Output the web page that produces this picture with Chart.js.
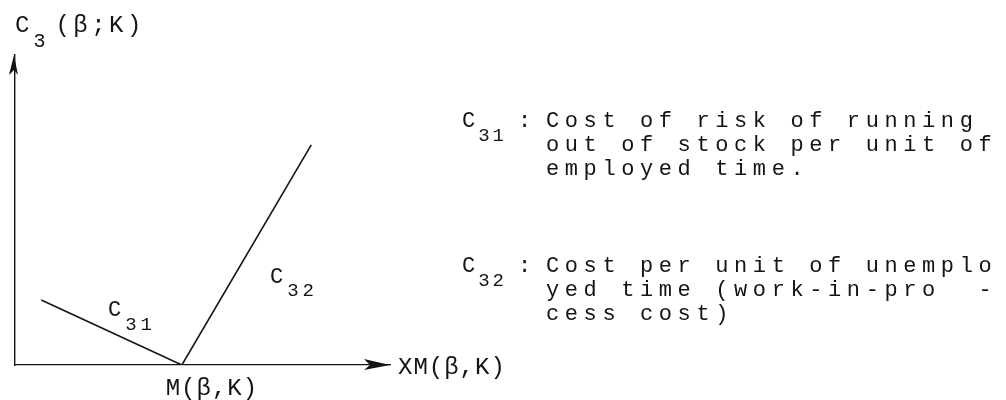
<!DOCTYPE html>
<html>
<head>
<meta charset="utf-8">
<title>C3(β;K)</title>
<script src="https://cdn.jsdelivr.net/npm/chart.js@4.4.1/dist/chart.umd.min.js"></script>
<style>
    html, body { margin: 0; padding: 0; background: #fff; }
    #wrap { width: 1006px; height: 400px; }
</style>
</head>
<body>
<div id="wrap"><canvas id="chart" width="1006" height="400"></canvas></div>
<script>
// Cost segments, in axis units (0..100 on both axes)
const c31X = [7, 44.5];
const c31Y = [21, 0];
const c32X = [44.5, 79];
const c32Y = [0, 71];

// Where the optimum M(β,K) sits on the x axis
const optimumX = 44.5;

// Segment labels, in axis units
const segLabels = [
    { base: 'C', sub: '31', x: 24.8, y: 15.8 },
    { base: 'C', sub: '32', x: 68, y: 26.5 }
];

// Explanatory notes on the right
const c31Note = ['Cost of risk of running', 'out of stock per unit of', 'employed time.'];
const c32Note = ['Cost per unit of unemplo', 'yed time (work-in-pro  -', 'cess cost)'];

const FONT = '"Liberation Mono", "DejaVu Sans Mono", monospace';
const INK = '#141414';

function setFont(ctx, size, spacing) {
    ctx.font = `${size}px ${FONT}`;
    ctx.letterSpacing = `${spacing}px`;
}

// Draws "C" followed by a lowered subscript, returns x after the text
function drawSub(ctx, base, sub, x, y, size, spacing) {
    setFont(ctx, size, spacing);
    ctx.fillText(base, x, y);
    let w = ctx.measureText(base).width;
    const subSize = Math.round(size * 0.85);
    setFont(ctx, subSize, spacing);
    ctx.fillText(sub, x + w, y + size * 0.62);
    return x + w + ctx.measureText(sub).width;
}

const diagramPlugin = {
    id: 'diagram',
    afterDraw(chart) {
        const { ctx, chartArea, scales } = chart;
        const left = chartArea.left;
        const bottom = chartArea.bottom;
        ctx.save();
        ctx.fillStyle = INK;
        ctx.strokeStyle = INK;
        ctx.textBaseline = 'alphabetic';
        ctx.textAlign = 'left';

        // arrow heads on both axes
        ctx.beginPath();
        ctx.moveTo(left - 1, chartArea.top);
        ctx.lineTo(left - 6, chartArea.top + 20);
        ctx.lineTo(left - 1, chartArea.top + 15);
        ctx.lineTo(left + 3, chartArea.top + 20);
        ctx.closePath();
        ctx.fill();

        const right = chartArea.right;
        ctx.beginPath();
        ctx.moveTo(right, bottom);
        ctx.lineTo(right - 26, bottom - 6);
        ctx.lineTo(right - 20, bottom);
        ctx.lineTo(right - 26, bottom + 5);
        ctx.closePath();
        ctx.fill();

        // axis titles
        const titleY = chartArea.top - 23;
        let x = drawSub(ctx, 'C', '3', left, titleY, 24, 4);
        setFont(ctx, 24, 3.5);
        ctx.fillText('(β;K)', x + 6, titleY);

        setFont(ctx, 24, 1);
        ctx.fillText('XM(β,K)', right + 8, bottom + 9);

        ctx.textAlign = 'center';
        ctx.fillText('M(β,K)', scales.x.getPixelForValue(optimumX) + 30, bottom + 30);
        ctx.textAlign = 'left';

        // segment labels
        segLabels.forEach(l => {
            drawSub(ctx, l.base, l.sub, scales.x.getPixelForValue(l.x), scales.y.getPixelForValue(l.y), 22, 4);
        });

        // notes
        const noteX = 462;
        const textX = 546;
        const pitch = 24;
        [[c31Note, '31', 127], [c32Note, '32', 272]].forEach(([lines, sub, y0]) => {
            drawSub(ctx, 'C', sub, noteX, y0, 22, 3);
            setFont(ctx, 22, 5.6);
            ctx.fillText(':', noteX + 56, y0);
            lines.forEach((line, i) => ctx.fillText(line, textX, y0 + i * pitch));
        });

        ctx.restore();
    }
};

const ctx = document.getElementById('chart').getContext('2d');

new Chart(ctx, {
    type: 'scatter',
    data: {
        datasets: [{
            label: 'C31',
            data: c31X.map((v, i) => ({ x: v, y: c31Y[i] })),
            showLine: true,
            borderColor: INK,
            borderWidth: 1.6,
            pointRadius: 0
        }, {
            label: 'C32',
            data: c32X.map((v, i) => ({ x: v, y: c32Y[i] })),
            showLine: true,
            borderColor: INK,
            borderWidth: 1.6,
            pointRadius: 0
        }]
    },
    options: {
        responsive: false,
        animation: false,
        layout: {
            padding: { left: 15, top: 55, right: 616, bottom: 35 }
        },
        plugins: {
            legend: { display: false },
            tooltip: { enabled: false }
        },
        scales: {
            x: {
                type: 'linear',
                min: 0,
                max: 100,
                ticks: { display: false },
                grid: { display: false, drawTicks: false },
                border: { display: true, color: INK, width: 1.3, dash: [14, 2] }
            },
            y: {
                type: 'linear',
                min: 0,
                max: 100,
                ticks: { display: false },
                grid: { display: false, drawTicks: false },
                border: { display: true, color: INK, width: 1.4 }
            }
        }
    },
    plugins: [diagramPlugin]
});
</script>
</body>
</html>
